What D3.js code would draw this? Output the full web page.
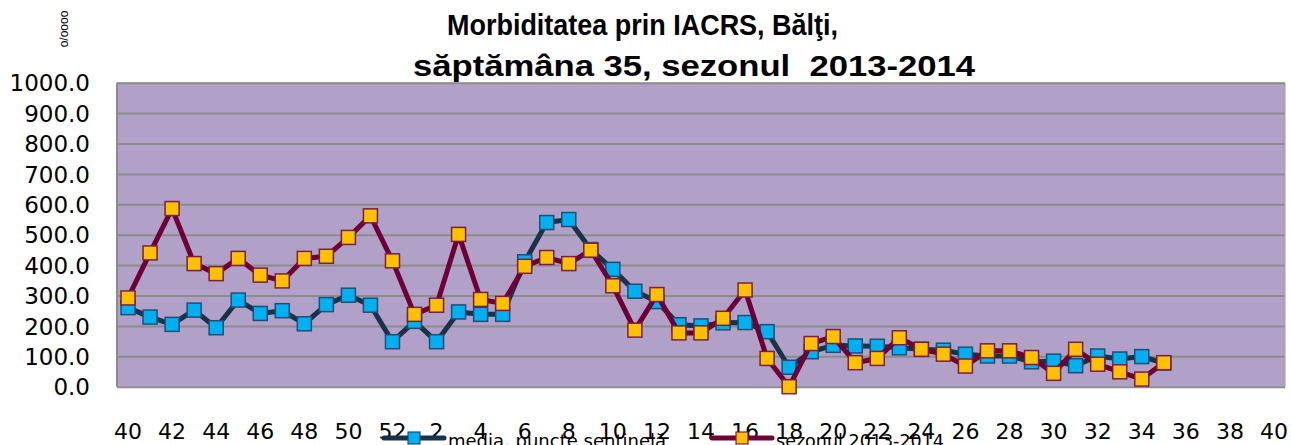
<!DOCTYPE html>
<html><head><meta charset="utf-8">
<script src="https://cdn.jsdelivr.net/npm/d3@7"></script>
<style>
html,body{margin:0;padding:0;background:#fff;overflow:hidden}
svg{display:block}
</style></head>
<body>
<svg id="chart" width="1291" height="445"></svg>
<script>
const weeks = [40,41,42,43,44,45,46,47,48,49,50,51,52,1,2,3,4,5,6,7,8,9,10,11,12,13,14,15,16,17,18,19,20,21,22,23,24,25,26,27,28,29,30,31,32,33,34,35,36,37,38,39,40];
const mediaSentinela = [260,229,205,252,194,285,241,250,207,270,301,268,148,215,148,246,238,238,411,540,550,451,386,314,280,204,200,210,211,181,64,115,136,134,133,128,123,120,107,101,101,82,84,69,101,91,99,78];
const sezon2013 = [292,440,586,405,372,422,367,348,422,429,491,562,414,238,268,501,287,274,396,425,405,449,332,186,303,177,177,225,318,93,0,142,165,79,93,161,123,107,68,118,118,96,44,123,74,49,25,79];
const yTicks = [0,100,200,300,400,500,600,700,800,900,1000];
const titleLines = ["Morbiditatea prin IACRS, Bălţi,", "săptămâna 35, sezonul  2013-2014"];
const unitLabel = "o/oooo";
const seriesNames = ["media, puncte sentinelă", "sezonul 2013-2014"];

const svg = d3.select("#chart");
const L = 117, R = 1285, T = 82.7, B = 386.7;

const x = d3.scaleBand().domain(d3.range(weeks.length)).range([L, R]).padding(0);
const y = d3.scaleLinear().domain([0, 1000]).range([B, T]);

// plot area
svg.append("rect").attr("x", L).attr("y", T).attr("width", R - L).attr("height", B - T)
  .attr("fill", "#B1A0C7");

// gridlines
const grid = svg.append("g").attr("transform", `translate(${L},0)`)
  .call(d3.axisLeft(y).tickValues(yTicks).tickSize(-(R - L)).tickFormat(""));
grid.select(".domain").remove();
grid.selectAll("line").attr("stroke", "#8C8C8C").attr("stroke-width", 2);

svg.append("line").attr("x1", L).attr("x2", L).attr("y1", T).attr("y2", B).attr("stroke", "#8C8C8C").attr("stroke-width", 2);
svg.append("line").attr("x1", R).attr("x2", R).attr("y1", T).attr("y2", B).attr("stroke", "#A0A0A0").attr("stroke-width", 1);

// y axis labels
const yAx = svg.append("g").attr("transform", `translate(90,0)`)
  .call(d3.axisLeft(y).tickValues(yTicks).tickSize(0).tickPadding(0).tickFormat(d3.format(".1f")));
yAx.select(".domain").remove();
yAx.selectAll("text").attr("font-family", "DejaVu Sans").attr("font-size", 23).attr("fill", "#000").attr("dy", "0.36em");

// x axis labels
const xAx = svg.append("g").attr("transform", `translate(0,${B})`)
  .call(d3.axisBottom(x).tickValues(d3.range(0, weeks.length, 2)).tickSize(0).tickPadding(0).tickFormat(i => weeks[i]));
xAx.select(".domain").remove();
xAx.selectAll("text").attr("font-family", "DejaVu Sans").attr("font-size", 22).attr("fill", "#000").attr("y", 52).attr("dy", 0);

const cx = i => x(i) + x.bandwidth() / 2;
const line = d3.line().x((d, i) => cx(i)).y(d => y(d));

function drawSeries(data, lineColor, fill, stroke) {
  svg.append("path").datum(data).attr("d", line).attr("fill", "none")
    .attr("stroke", lineColor).attr("stroke-width", 5).attr("stroke-linejoin", "round");
  svg.append("g").selectAll("rect").data(data).join("rect")
    .attr("x", (d, i) => cx(i) - 7).attr("y", d => y(d) - 7)
    .attr("width", 14).attr("height", 14)
    .attr("fill", fill).attr("stroke", stroke).attr("stroke-width", 1.5);
}
drawSeries(mediaSentinela, "#17324A", "#00B0F0", "#1F4E79");
drawSeries(sezon2013, "#6E0036", "#FFC000", "#7A1F40");

// title
const titlePos = [{x: 447, y: 35, w: 391, fs: 29}, {x: 413, y: 76, w: 562, fs: 29}];
svg.append("g").selectAll("text").data(titleLines).join("text")
  .attr("x", (d, i) => titlePos[i].x)
  .attr("y", (d, i) => titlePos[i].y)
  .attr("textLength", (d, i) => titlePos[i].w)
  .attr("lengthAdjust", "spacingAndGlyphs")
  .attr("xml:space", "preserve")
  .style("white-space", "pre")
  .attr("font-family", "Liberation Sans, Arial, sans-serif")
  .attr("font-weight", "bold").attr("font-size", (d, i) => titlePos[i].fs).attr("fill", "#000")
  .text(d => d);

// unit label
svg.append("text").attr("transform", "translate(68,29) rotate(-90)")
  .attr("text-anchor", "middle").attr("font-family", "Liberation Sans, Arial, sans-serif")
  .attr("font-size", 12).attr("fill", "#000").text(unitLabel);

// legend
const legend = [
  {name: seriesNames[0], x0: 384, lc: "#17324A", fill: "#00B0F0", stroke: "#1F4E79", w: 218},
  {name: seriesNames[1], x0: 712, lc: "#6E0036", fill: "#FFC000", stroke: "#7A1F40", w: 168}
];
const lg = svg.append("g").selectAll("g").data(legend).join("g");
lg.append("line").attr("x1", d => d.x0).attr("x2", d => d.x0 + 60).attr("y1", 438).attr("y2", 438)
  .attr("stroke", d => d.lc).attr("stroke-width", 5).attr("stroke-linecap", "round");
lg.append("rect").attr("x", d => d.x0 + 24).attr("y", 432).attr("width", 12).attr("height", 12)
  .attr("fill", d => d.fill).attr("stroke", d => d.stroke).attr("stroke-width", 1.2);
lg.append("text").attr("x", d => d.x0 + 64).attr("y", 447)
  .attr("textLength", d => d.w).attr("lengthAdjust", "spacingAndGlyphs")
  .attr("font-family", "DejaVu Sans").attr("font-size", 17).attr("fill", "#000")
  .text(d => d.name);
</script>
</body></html>
